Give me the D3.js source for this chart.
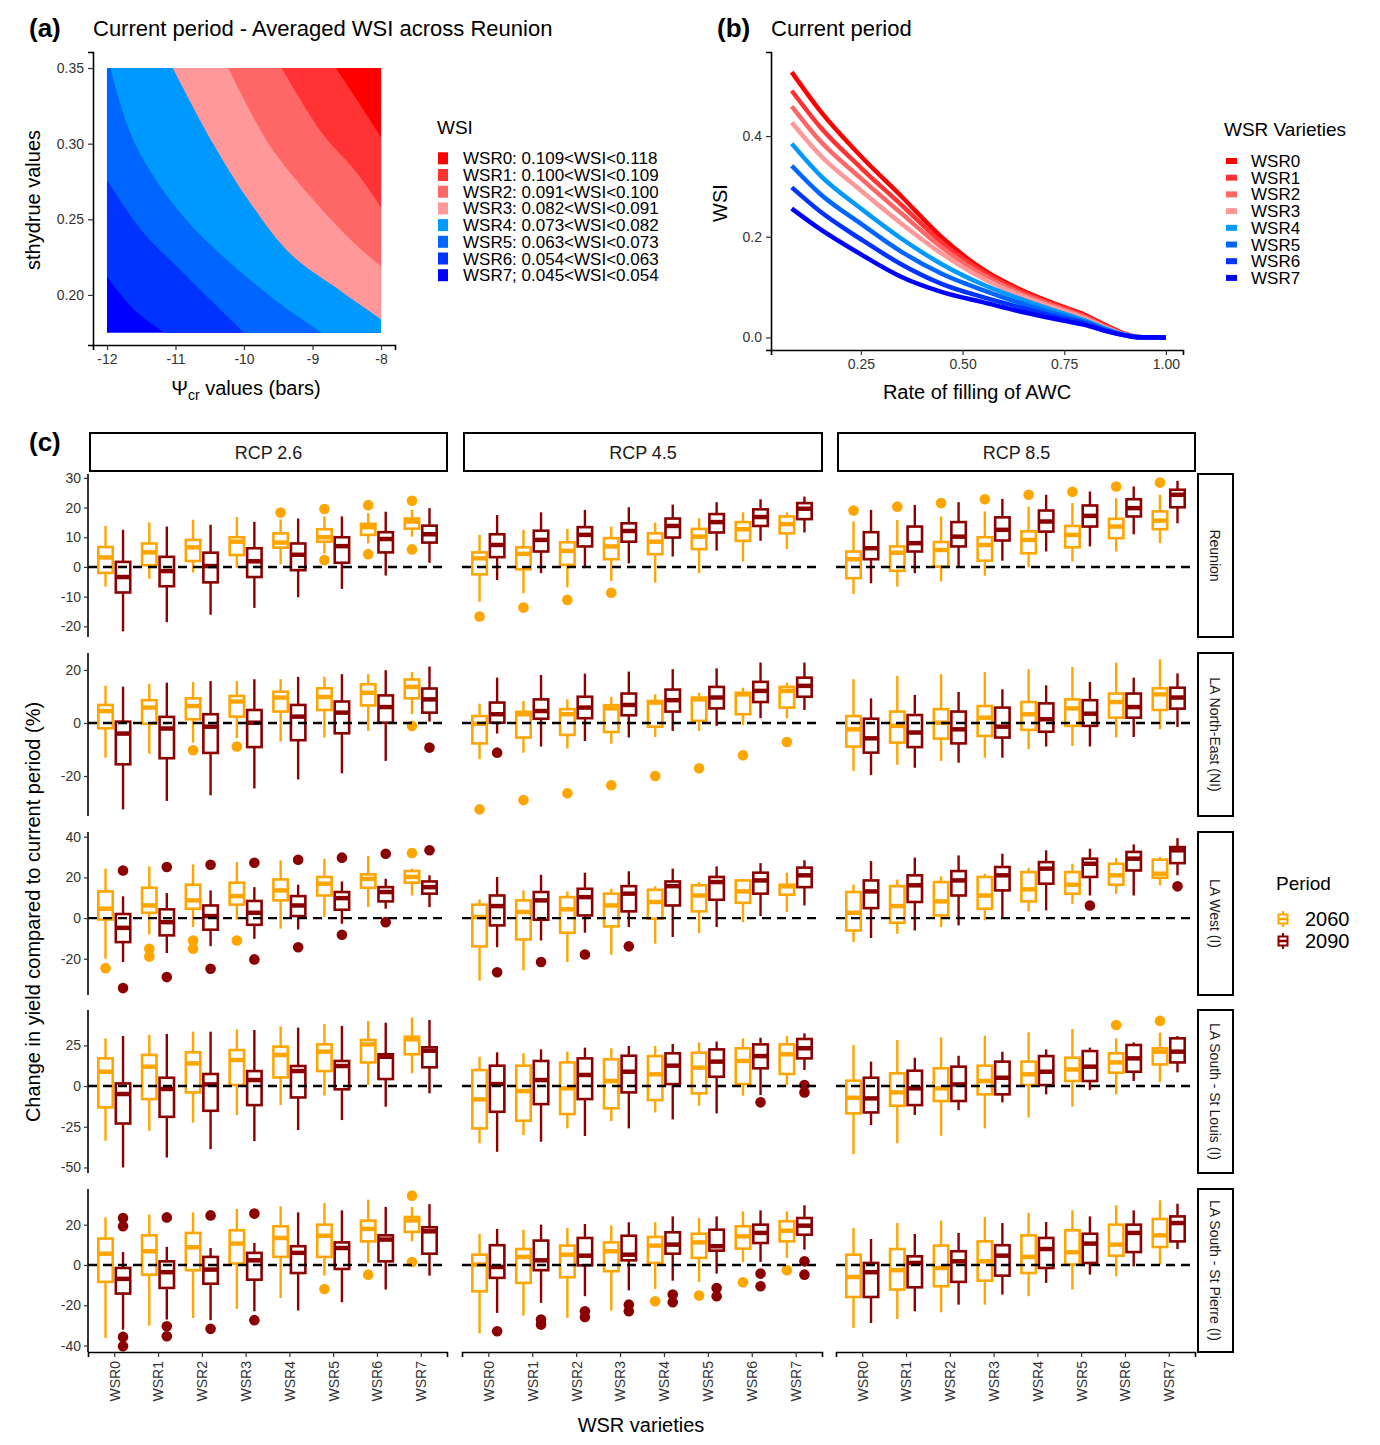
<!DOCTYPE html>
<meta charset="utf-8">
<script src="https://d3js.org/d3.v7.min.js"></script>
<style>
  body { margin: 0; background: #fff; }
  text { font-family: "Liberation Sans", Arial, sans-serif; }
</style>
<div id="chart"></div>
<script>
// ---------------- data ----------------
const varieties = ["WSR0", "WSR1", "WSR2", "WSR3", "WSR4", "WSR5", "WSR6", "WSR7"];
const wsrColors = ["#ff0000", "#ff3333", "#ff6666", "#ff9999", "#0099ff", "#0066ff", "#0033ff", "#0000ff"];
const wsiClasses = ["WSR0: 0.109<WSI<0.118", "WSR1: 0.100<WSI<0.109", "WSR2: 0.091<WSI<0.100",
  "WSR3: 0.082<WSI<0.091", "WSR4: 0.073<WSI<0.082", "WSR5: 0.063<WSI<0.073",
  "WSR6: 0.054<WSI<0.063", "WSR7; 0.045<WSI<0.054"];

// (a) contour boundaries between classes, [psi_cr, sthydrue]
const psiTicks = [-12, -11, -10, -9, -8];
const sthTicks = [0.20, 0.25, 0.30, 0.35];
const bound_7_6 = [[-12, 0.212], [-11.6, 0.19], [-11.16, 0.175]];
const bound_6_5 = [[-12, 0.276], [-11.5, 0.243], [-10.94, 0.217], [-10.45, 0.195], [-10.0, 0.175]];
const bound_5_4 = [[-11.95, 0.35], [-11.59, 0.30], [-10.85, 0.25], [-9.64, 0.20], [-8.86, 0.175]];
const bound_4_3 = [[-11.04, 0.35], [-10.45, 0.30], [-9.94, 0.263], [-9.32, 0.227], [-8.6, 0.203], [-8, 0.184]];
const bound_3_2 = [[-10.23, 0.35], [-9.64, 0.30], [-8.99, 0.263], [-8.34, 0.232], [-8, 0.219]];
const bound_2_1 = [[-9.45, 0.35], [-8.86, 0.307], [-8.34, 0.28], [-8, 0.258]];
const bound_1_0 = [[-8.66, 0.35], [-8.28, 0.324], [-8, 0.304]];

// (b) WSI vs rate of filling of AWC
const awcFill = [0.08, 0.15, 0.25, 0.35, 0.45, 0.55, 0.65, 0.75, 0.80, 0.85, 0.90, 0.93, 1.00];
const wsi_WSR0 = [0.527, 0.450, 0.360, 0.280, 0.198, 0.135, 0.092, 0.060, 0.045, 0.025, 0.007, 0.001, 0];
const wsi_WSR1 = [0.490, 0.418, 0.337, 0.263, 0.188, 0.130, 0.089, 0.058, 0.043, 0.023, 0.006, 0.001, 0];
const wsi_WSR2 = [0.459, 0.390, 0.316, 0.246, 0.178, 0.124, 0.085, 0.055, 0.040, 0.022, 0.006, 0.001, 0];
const wsi_WSR3 = [0.427, 0.362, 0.292, 0.226, 0.166, 0.117, 0.081, 0.052, 0.038, 0.020, 0.005, 0.001, 0];
const wsi_WSR4 = [0.385, 0.322, 0.256, 0.196, 0.145, 0.105, 0.074, 0.047, 0.034, 0.018, 0.005, 0.001, 0];
const wsi_WSR5 = [0.341, 0.285, 0.226, 0.170, 0.126, 0.094, 0.066, 0.042, 0.031, 0.016, 0.004, 0.001, 0];
const wsi_WSR6 = [0.298, 0.250, 0.195, 0.145, 0.106, 0.080, 0.058, 0.037, 0.028, 0.014, 0.004, 0.0005, 0];
const wsi_WSR7 = [0.256, 0.215, 0.165, 0.120, 0.090, 0.070, 0.050, 0.033, 0.025, 0.013, 0.004, 0.0005, 0];

// (c) boxplot stats per variety: [lower whisker, Q1, median, Q3, upper whisker]
const regions = ["Reunion", "LA North-East (NI)", "LA West (I)", "LA South - St Louis (I)", "LA South - St Pierre (I)"];
const scenarios = ["RCP 2.6", "RCP 4.5", "RCP 8.5"];
const periods = ["2060", "2090"];

const reu_26_2060 = [[-6.6,-2.0,3.2,6.7,13.8],[-4.0,0.6,4.9,7.9,15.0],[-1.9,2.0,6.6,9.1,15.9],[-0.3,4.0,8.5,10.0,16.8],[0.9,6.5,8.2,11.3,16.0],[4.5,8.5,10.0,12.7,17.0],[7.9,10.8,13.4,14.5,18.1],[10.2,12.9,15.3,16.3,19.3]];
const reu_26_2090 = [[-21.7,-8.6,-3.4,1.7,12.5],[-18.6,-6.5,-1.4,3.4,13.6],[-16.1,-5.2,0.3,4.8,14.2],[-13.8,-3.4,1.9,6.3,15.2],[-10.2,-1.1,4.1,7.9,16.3],[-7.4,1.4,7.0,10.0,17.0],[-2.9,4.9,9.4,11.7,18.6],[1.4,8.2,11.0,13.9,19.8]];
const reu_45_2060 = [[-11.7,-2.5,2.9,4.9,10.8],[-8.9,-0.8,4.4,6.6,12.5],[-6.9,0.7,5.4,8.3,12.8],[-4.7,2.6,6.9,9.7,13.6],[-5.3,4.3,8.5,11.3,14.9],[-2.1,6.0,10.2,12.8,16.4],[1.8,8.8,12.7,15.1,18.4],[6.0,11.3,14.4,17.0,18.4]];
const reu_45_2090 = [[-4.4,3.3,7.4,11.0,17.5],[-2.1,5.2,9.1,12.2,18.4],[-0.4,6.9,10.8,13.4,19.2],[1.2,8.5,12.1,14.7,20.1],[3.5,9.9,13.8,16.3,21.0],[5.5,11.6,15.1,17.8,21.8],[8.8,13.8,16.8,19.4,22.8],[11.6,16.1,19.6,21.5,23.7]];
const reu_85_2060 = [[-9.1,-3.8,2.6,5.2,15.3],[-6.6,-1.3,4.8,6.9,15.8],[-4.9,0.1,5.7,8.4,17.0],[-3.0,2.1,7.4,10.0,18.7],[-0.1,4.6,9.1,12.0,20.3],[1.8,6.6,10.8,13.8,21.5],[5.2,9.7,13.6,16.2,23.1],[8.0,12.7,15.6,18.7,24.3]];
const reu_85_2090 = [[-5.5,2.6,6.3,11.7,19.2],[-2.1,5.2,8.0,13.6,20.9],[-0.1,6.9,10.2,15.1,21.8],[2.1,8.9,12.5,16.7,22.9],[5.2,11.9,15.3,19.0,24.3],[6.9,13.6,17.2,20.7,25.4],[11.0,17.0,19.8,22.8,27.1],[14.7,20.1,24.3,26.0,29.0]];

const ne_26_2060 = [[-13.1,-2.0,4.5,6.8,14.0],[-11.6,-0.3,5.8,8.6,14.8],[-7.4,1.4,6.4,9.3,15.5],[-5.8,2.4,8.1,10.2,15.8],[-7.0,4.3,9.6,11.8,16.5],[-5.5,4.9,9.8,13.1,17.4],[-3.0,6.6,11.4,14.6,18.4],[3.3,9.3,13.6,16.4,19.2]];
const ne_26_2090 = [[-32.6,-15.6,-4.0,0.5,13.7],[-29.4,-13.3,-2.1,2.3,15.2],[-27.3,-11.3,-1.4,3.3,15.8],[-24.7,-9.1,0.1,4.9,16.5],[-21.3,-6.5,2.4,6.8,17.4],[-19.0,-3.9,3.9,8.1,18.4],[-14.3,0.1,6.0,10.4,19.9],[0.5,3.9,8.9,13.0,21.3]];
const ne_45_2060 = [[-13.7,-7.7,-0.3,2.6,7.3],[-11.2,-5.5,3.3,4.2,8.3],[-9.6,-4.5,3.3,5.2,8.9],[-7.8,-3.4,5.5,6.7,9.8],[-5.3,-1.4,7.7,8.3,10.8],[-3.0,0.8,8.9,9.6,11.4],[-0.8,3.3,10.8,11.4,13.3],[1.8,5.8,12.1,13.6,15.2]];
const ne_45_2090 = [[-4.0,0.1,3.3,7.7,17.1],[-8.9,1.6,4.5,8.9,18.1],[-6.8,1.8,5.8,9.9,18.6],[-5.5,2.9,6.8,11.1,19.4],[-3.0,4.3,8.6,12.6,20.3],[-1.1,5.5,9.6,13.6,20.6],[1.8,7.9,12.1,15.5,22.8],[4.9,9.9,14.0,17.1,22.8]];
const ne_85_2060 = [[-18.1,-8.9,-2.4,2.6,16.5],[-15.8,-7.4,-1.1,4.3,17.7],[-14.3,-5.9,0.1,5.2,18.4],[-13.1,-4.9,2.0,6.4,19.2],[-9.9,-2.6,3.3,7.9,20.3],[-8.7,-1.1,5.5,8.9,21.1],[-5.5,2.0,7.9,11.1,22.8],[-2.4,4.9,10.8,13.1,24.0]];
const ne_85_2090 = [[-19.6,-11.2,-5.8,1.6,9.3],[-16.9,-9.1,-3.6,3.0,10.6],[-15.0,-7.7,-2.4,4.3,11.7],[-13.1,-5.5,-1.4,5.8,12.7],[-8.9,-3.3,1.4,7.4,14.2],[-8.9,-1.1,3.5,8.6,15.5],[-5.3,2.0,6.0,11.1,17.1],[-1.5,5.4,9.6,13.3,18.7]];

const west_26_2060 = [[-20.0,-0.7,4.6,13.1,24.3],[-8.0,2.6,6.2,14.9,25.4],[-4.4,4.6,8.7,16.4,26.4],[-0.8,6.6,10.8,17.4,27.5],[-5.2,8.7,13.6,19.0,28.4],[0.5,11.1,16.9,20.2,29.2],[5.4,14.9,19.3,21.5,30.5],[11.1,17.4,20.2,23.1,24.3]];
const west_26_2090 = [[-21.6,-11.8,-4.8,2.0,10.7],[-17.2,-8.5,-2.0,4.3,12.3],[-13.8,-5.7,1.0,6.2,13.6],[-10.2,-3.3,2.6,8.4,15.2],[-5.6,1.0,6.2,10.8,16.4],[-2.8,4.1,9.8,12.8,18.0],[4.6,8.2,12.8,15.2,19.3],[5.4,12.0,15.2,18.0,21.0]];
const west_45_2060 = [[-30.7,-13.9,0.5,6.6,9.2],[-25.7,-10.5,3.0,8.7,13.6],[-21.6,-7.2,4.3,10.3,13.1],[-18.0,-4.1,6.2,12.0,14.4],[-12.6,-0.3,7.9,13.9,15.6],[-7.4,3.3,11.1,16.1,17.7],[-2.0,7.5,13.1,18.5,19.3],[3.0,11.5,15.6,16.4,22.3]];
const west_45_2090 = [[-14.3,-3.6,5.9,11.1,20.2],[-11.0,-0.8,8.7,12.8,21.3],[-7.2,1.3,10.3,14.4,22.3],[-4.4,3.3,12.0,15.7,23.0],[-9.3,6.2,15.7,18.0,24.3],[-4.4,9.0,17.7,20.2,25.4],[1.0,12.0,18.5,22.3,27.0],[6.2,15.2,21.0,24.8,28.4]];
const west_85_2060 = [[-11.8,-6.1,2.6,12.8,16.4],[-7.7,-2.3,5.9,15.7,18.9],[-4.4,1.3,8.2,17.7,20.5],[-1.1,4.6,11.1,20.2,21.8],[3.3,8.2,14.1,22.6,24.6],[7.0,12.0,16.4,22.6,26.7],[12.0,16.4,21.0,26.7,29.5],[16.1,19.8,21.8,28.7,30.0]];
const west_85_2090 = [[-9.8,4.9,13.1,18.5,28.0],[-6.1,7.9,16.1,21.0,29.7],[-3.6,11.1,18.5,23.1,30.8],[-0.3,13.6,21.0,25.1,31.6],[3.8,16.9,24.3,27.5,33.3],[11.1,20.2,26.7,29.2,34.1],[11.1,23.4,29.2,32.5,36.2],[21.0,27.0,33.3,34.9,39.3]];

const stl_26_2060 = [[-33.6,-13.1,8.8,17.0,29.3],[-27.5,-8.0,11.9,19.1,31.4],[-22.5,-3.9,13.9,20.7,33.4],[-17.8,0.6,16.0,22.1,34.8],[-11.7,5.3,19.1,24.2,36.5],[-5.9,9.2,21.1,25.6,38.1],[0.6,14.5,25.6,28.3,40.0],[7.8,19.5,28.7,30.3,42.0]];
const stl_26_2090 = [[-50.0,-23.0,-4.9,1.6,30.7],[-43.9,-18.9,-1.8,5.1,32.0],[-38.7,-15.2,1.0,7.4,33.4],[-33.8,-11.7,3.7,9.2,34.4],[-27.0,-7.0,9.2,12.3,35.9],[-20.9,-2.0,12.3,15.4,36.9],[-12.7,4.3,18.0,19.5,38.9],[-4.5,11.5,21.7,23.8,40.6]];
const stl_45_2060 = [[-35.2,-26.0,-8.2,9.8,18.0],[-30.1,-21.3,-3.1,12.5,20.1],[-26.0,-17.2,-1.4,14.5,21.1],[-21.5,-13.7,3.1,16.4,23.2],[-16.2,-8.6,7.2,18.4,24.6],[-12.1,-4.5,11.3,20.5,26.8],[-5.9,1.2,15.4,23.2,29.3],[0.6,7.4,19.5,25.6,30.7]];
const stl_45_2090 = [[-40.4,-15.8,1.2,12.5,20.7],[-34.2,-11.1,3.7,15.4,22.5],[-30.7,-8.0,6.8,17.0,23.6],[-26.0,-3.9,8.8,18.6,24.6],[-20.5,1.2,12.5,20.1,25.8],[-16.8,5.7,15.0,22.5,27.3],[-5.5,10.9,18.4,25.6,29.7],[9.8,17.0,23.2,28.9,32.4]];
const stl_85_2060 = [[-41.8,-16.8,-7.2,3.3,25.2],[-35.2,-12.1,-3.9,7.8,28.3],[-30.5,-9.2,-1.4,10.9,29.9],[-26.0,-5.1,3.1,12.5,30.9],[-19.3,0.6,7.2,15.0,33.0],[-12.7,3.1,10.2,17.4,35.0],[-5.1,8.2,14.5,20.1,29.3],[2.3,13.3,21.1,23.2,32.8]];
const stl_85_2090 = [[-24.0,-16.2,-7.6,5.1,15.0],[-17.8,-11.7,-1.4,9.4,17.4],[-14.8,-9.2,1.0,11.9,18.6],[-10.0,-5.1,5.1,15.0,21.1],[-5.1,0.6,8.8,18.4,22.5],[-2.5,3.1,11.9,21.5,23.6],[3.1,8.8,17.0,25.2,26.8],[8.4,14.5,21.1,29.3,30.7]];

const stp_26_2060 = [[-36.2,-8.4,5.6,13.1,23.6],[-30.1,-4.8,6.8,14.7,25.0],[-26.3,-2.6,8.8,15.9,26.1],[-21.8,0.7,10.6,17.2,27.8],[-16.4,4.0,13.4,19.2,29.1],[-5.3,4.0,14.5,20.0,30.7],[1.0,11.7,17.9,22.0,32.4],[11.7,16.4,22.1,23.8,28.8]];
const stp_26_2090 = [[-32.1,-14.2,-6.9,-1.5,6.4],[-27.1,-11.4,-3.6,1.8,9.0],[-27.4,-9.3,-2.3,4.0,8.4],[-23.0,-7.3,2.3,6.0,10.9],[-22.6,-4.0,6.0,9.3,26.1],[-18.5,-2.0,8.4,11.2,27.1],[-12.2,1.8,12.6,14.7,28.8],[-5.3,5.6,16.7,18.7,30.2]];
const stp_45_2060 = [[-34.0,-13.1,0.2,5.1,15.4],[-25.1,-8.9,4.0,7.9,17.5],[-26.3,-6.1,5.1,9.6,18.3],[-22.6,-3.1,6.8,11.2,19.5],[-11.9,1.0,9.6,13.9,21.2],[-8.4,3.5,11.2,15.5,23.3],[1.5,8.1,14.2,19.2,26.6],[3.5,11.7,17.0,21.7,26.6]];
const stp_45_2090 = [[-23.8,-6.4,-1.0,9.8,17.9],[-18.8,-2.6,2.3,12.1,20.0],[-15.5,-0.2,4.6,13.4,20.3],[-12.6,2.3,5.1,14.5,21.2],[-7.8,5.6,10.1,16.2,24.1],[-4.3,7.1,9.3,17.5,24.1],[1.5,10.9,15.9,20.0,27.1],[7.6,15.0,19.5,23.3,29.6]];
const stp_85_2060 = [[-31.2,-15.9,-6.0,5.1,18.3],[-26.8,-12.2,-2.6,7.9,20.8],[-23.5,-10.6,-1.5,9.6,22.0],[-19.7,-7.8,1.8,11.7,23.8],[-15.5,-4.0,4.0,14.7,25.8],[-12.2,0.2,6.3,17.2,27.1],[-5.6,4.6,10.1,20.0,29.6],[0.2,8.9,14.7,22.8,32.1]];
const stp_85_2090 = [[-28.8,-15.9,-3.6,1.0,12.9],[-23.0,-11.1,1.0,4.3,15.4],[-19.7,-8.4,1.8,6.8,15.9],[-14.7,-5.3,4.6,9.8,20.8],[-8.9,-1.5,7.9,13.4,21.3],[-4.8,1.0,10.6,15.5,24.1],[-0.7,6.4,15.9,20.0,27.1],[7.9,11.7,20.8,24.1,30.4]];

// outliers: [scenario, variety, period, value]
const out_reu = [["RCP 2.6","WSR4","2060",18.3],["RCP 2.6","WSR5","2060",19.5],["RCP 2.6","WSR5","2060",2.3],["RCP 2.6","WSR6","2060",20.8],["RCP 2.6","WSR6","2060",4.3],["RCP 2.6","WSR7","2060",22.3],["RCP 2.6","WSR7","2060",5.9],
  ["RCP 4.5","WSR0","2060",-16.7],["RCP 4.5","WSR1","2060",-13.7],["RCP 4.5","WSR2","2060",-11.1],["RCP 4.5","WSR3","2060",-8.7],
  ["RCP 8.5","WSR0","2060",19.0],["RCP 8.5","WSR1","2060",20.3],["RCP 8.5","WSR2","2060",21.5],["RCP 8.5","WSR3","2060",22.8],["RCP 8.5","WSR4","2060",24.3],["RCP 8.5","WSR5","2060",25.3],["RCP 8.5","WSR6","2060",27.1],["RCP 8.5","WSR7","2060",28.4]];
const out_ne = [["RCP 2.6","WSR2","2060",-10.3],["RCP 2.6","WSR3","2060",-8.9],["RCP 2.6","WSR7","2060",-1.1],["RCP 2.6","WSR7","2090",-9.3],
  ["RCP 4.5","WSR0","2060",-32.6],["RCP 4.5","WSR1","2060",-29.1],["RCP 4.5","WSR2","2060",-26.5],["RCP 4.5","WSR3","2060",-23.5],["RCP 4.5","WSR4","2060",-20.0],["RCP 4.5","WSR5","2060",-17.1],["RCP 4.5","WSR6","2060",-12.2],["RCP 4.5","WSR7","2060",-7.2],["RCP 4.5","WSR0","2090",-11.2]];
const out_west = [["RCP 2.6","WSR0","2060",-24.6],["RCP 2.6","WSR1","2060",-15.1],["RCP 2.6","WSR1","2060",-18.9],["RCP 2.6","WSR2","2060",-11.0],["RCP 2.6","WSR2","2060",-15.1],["RCP 2.6","WSR3","2060",-11.0],["RCP 2.6","WSR7","2060",32.0],
  ["RCP 2.6","WSR0","2090",23.4],["RCP 2.6","WSR0","2090",-34.4],["RCP 2.6","WSR1","2090",25.1],["RCP 2.6","WSR1","2090",-29.0],["RCP 2.6","WSR2","2090",26.2],["RCP 2.6","WSR2","2090",-24.9],["RCP 2.6","WSR3","2090",27.2],["RCP 2.6","WSR3","2090",-20.3],["RCP 2.6","WSR4","2090",28.7],["RCP 2.6","WSR4","2090",-14.3],["RCP 2.6","WSR5","2090",29.7],["RCP 2.6","WSR5","2090",-8.2],["RCP 2.6","WSR6","2090",31.6],["RCP 2.6","WSR6","2090",-2.0],["RCP 2.6","WSR7","2090",33.3],
  ["RCP 4.5","WSR0","2090",-26.6],["RCP 4.5","WSR1","2090",-21.6],["RCP 4.5","WSR2","2090",-17.9],["RCP 4.5","WSR3","2090",-13.9],
  ["RCP 8.5","WSR5","2090",6.2],["RCP 8.5","WSR7","2090",15.6]];
const out_stl = [["RCP 4.5","WSR6","2090",-10.0],["RCP 4.5","WSR7","2090",0.6],["RCP 4.5","WSR7","2090",-3.9],
  ["RCP 8.5","WSR6","2060",37.5],["RCP 8.5","WSR7","2060",40.0]];
const out_stp = [["RCP 2.6","WSR5","2060",-11.9],["RCP 2.6","WSR6","2060",-4.8],["RCP 2.6","WSR7","2060",34.4],["RCP 2.6","WSR7","2060",1.5],
  ["RCP 2.6","WSR0","2090",23.3],["RCP 2.6","WSR0","2090",19.2],["RCP 2.6","WSR0","2090",-35.7],["RCP 2.6","WSR0","2090",-40.3],["RCP 2.6","WSR1","2090",23.6],["RCP 2.6","WSR1","2090",-30.4],["RCP 2.6","WSR1","2090",-35.4],["RCP 2.6","WSR2","2090",24.6],["RCP 2.6","WSR2","2090",-31.7],["RCP 2.6","WSR3","2090",25.5],["RCP 2.6","WSR3","2090",-27.4],
  ["RCP 4.5","WSR4","2060",-18.0],["RCP 4.5","WSR5","2060",-15.2],["RCP 4.5","WSR6","2060",-8.6],["RCP 4.5","WSR7","2060",-2.6],
  ["RCP 4.5","WSR0","2090",-32.9],["RCP 4.5","WSR1","2090",-27.1],["RCP 4.5","WSR1","2090",-29.6],["RCP 4.5","WSR2","2090",-23.0],["RCP 4.5","WSR2","2090",-25.8],["RCP 4.5","WSR3","2090",-19.7],["RCP 4.5","WSR3","2090",-23.0],["RCP 4.5","WSR4","2090",-14.7],["RCP 4.5","WSR4","2090",-18.5],["RCP 4.5","WSR5","2090",-11.4],["RCP 4.5","WSR5","2090",-15.5],["RCP 4.5","WSR6","2090",-4.3],["RCP 4.5","WSR6","2090",-10.6],["RCP 4.5","WSR7","2090",1.8],["RCP 4.5","WSR7","2090",-4.8]];

// y ticks of each region row
const rowTicks = [[-20, -10, 0, 10, 20, 30], [-20, 0, 20], [-20, 0, 20, 40], [-50, -25, 0, 25], [-40, -20, 0, 20]];

// ---------------- layout ----------------
const periodColors = ["#ffa500", "#8b0000"];
const boxTable = [
  [[reu_26_2060, reu_26_2090], [reu_45_2060, reu_45_2090], [reu_85_2060, reu_85_2090]],
  [[ne_26_2060, ne_26_2090], [ne_45_2060, ne_45_2090], [ne_85_2060, ne_85_2090]],
  [[west_26_2060, west_26_2090], [west_45_2060, west_45_2090], [west_85_2060, west_85_2090]],
  [[stl_26_2060, stl_26_2090], [stl_45_2060, stl_45_2090], [stl_85_2060, stl_85_2090]],
  [[stp_26_2060, stp_26_2090], [stp_45_2060, stp_45_2090], [stp_85_2060, stp_85_2090]]
];
const outTable = [out_reu, out_ne, out_west, out_stl, out_stp];
const rowDomains = [[-23.6, 31.3], [-35.1, 26.4], [-37.8, 42.3], [-53.4, 46.7], [-43.2, 37.7]];
const colX = [[88, 447], [462, 822], [836, 1195]];
const rowY = [[474, 637], [653, 816], [832, 995], [1010, 1173], [1189, 1352]];

const svg = d3.select("#chart").append("svg")
  .attr("width", 1380).attr("height", 1445);

const tickColor = "#333";
const plainNum = d => String(d);   // hyphen-minus like the original
function styleAxis(g, fs) {
  g.selectAll(".domain").attr("stroke", "#000").attr("stroke-width", 1.6);
  g.selectAll(".tick line").attr("stroke", "#333").attr("stroke-width", 1.2);
  g.selectAll(".tick text").attr("fill", tickColor).style("font-size", fs + "px")
    .style("font-family", "Liberation Sans, Arial, sans-serif");
}

// ---------------- panel (a) ----------------
const ax = d3.scaleLinear().domain([-12.204, -7.796]).range([93, 395]);
const ay = d3.scaleLinear().domain([0.1669, 0.3606]).range([345, 52]);

svg.append("text").attr("x", 29).attr("y", 37).style("font-size", "26px").style("font-weight", "bold").text("(a)");
svg.append("text").attr("x", 93).attr("y", 36).style("font-size", "22px").text("Current period - Averaged WSI across Reunion");

const ga = svg.append("g");
const xmin = -12, xmax = -8, ymin = 0.175, ymax = 0.35;
ga.append("rect").attr("x", ax(xmin)).attr("y", ay(ymax))
  .attr("width", ax(xmax) - ax(xmin)).attr("height", ay(ymin) - ay(ymax))
  .attr("fill", wsrColors[7]);
const boundaries = [bound_7_6, bound_6_5, bound_5_4, bound_4_3, bound_3_2, bound_2_1, bound_1_0];
const curveLine = d3.line().x(d => ax(d[0])).y(d => ay(d[1])).curve(d3.curveCatmullRom);
boundaries.forEach((b, i) => {
  const first = b[0], last = b[b.length - 1];
  const corners = [[xmax, last[1]], [xmax, ymax], [first[0], ymax]];
  const path = curveLine(b) + corners.map(c => "L" + ax(c[0]) + "," + ay(c[1])).join("") + "Z";
  ga.append("path").attr("d", path).attr("fill", wsrColors[6 - i]);
});

const axA = svg.append("g").attr("transform", "translate(0,345)")
  .call(d3.axisBottom(ax).tickValues(psiTicks).tickFormat(plainNum).tickSizeOuter(0).tickSize(5).tickPadding(4));
styleAxis(axA, 14);
const ayA = svg.append("g").attr("transform", "translate(93,0)")
  .call(d3.axisLeft(ay).tickValues(sthTicks).tickFormat(d3.format(".2f")).tickSizeOuter(0).tickSize(5).tickPadding(4));
styleAxis(ayA, 14);

svg.append("text").attr("transform", "translate(40,200) rotate(-90)").attr("text-anchor", "middle")
  .style("font-size", "20px").text("sthydrue values");
const xt = svg.append("text").attr("x", 246).attr("y", 395).attr("text-anchor", "middle").style("font-size", "20px");
xt.append("tspan").text("Ψ");
xt.append("tspan").attr("dy", 5).style("font-size", "14px").text("cr");
xt.append("tspan").attr("dy", -5).text(" values (bars)");

// legend (a)
svg.append("text").attr("x", 437).attr("y", 134).style("font-size", "19px").text("WSI");
const legA = svg.append("g").selectAll("g").data(wsiClasses).join("g")
  .attr("transform", (d, i) => `translate(438,${158.3 + i * 16.7})`);
legA.append("rect").attr("x", 0).attr("y", -6).attr("width", 10).attr("height", 12)
  .attr("fill", (d, i) => wsrColors[i]);
legA.append("text").attr("x", 25).attr("y", 6).style("font-size", "17px").text(d => d);

// ---------------- panel (b) ----------------
const bx = d3.scaleLinear().domain([0.029, 1.042]).range([771, 1183]);
const by = d3.scaleLinear().domain([-0.025, 0.567]).range([350, 52]);
svg.append("text").attr("x", 717).attr("y", 37).style("font-size", "26px").style("font-weight", "bold").text("(b)");
svg.append("text").attr("x", 771).attr("y", 36).style("font-size", "22px").text("Current period");

const wsiSeries = [wsi_WSR0, wsi_WSR1, wsi_WSR2, wsi_WSR3, wsi_WSR4, wsi_WSR5, wsi_WSR6, wsi_WSR7];
const wsiLine = d3.line().x((d, i) => bx(awcFill[i])).y(d => by(d)).curve(d3.curveMonotoneX);
svg.append("g").selectAll("path").data(wsiSeries).join("path")
  .attr("d", d => wsiLine(d)).attr("fill", "none")
  .attr("stroke", (d, i) => wsrColors[i]).attr("stroke-width", 4.5).attr("stroke-linecap", "butt");

const axB = svg.append("g").attr("transform", "translate(0,350)")
  .call(d3.axisBottom(bx).tickValues([0.25, 0.5, 0.75, 1.0]).tickFormat(d3.format(".2f")).tickSizeOuter(0).tickSize(5).tickPadding(4));
styleAxis(axB, 14);
const ayB = svg.append("g").attr("transform", "translate(771,0)")
  .call(d3.axisLeft(by).tickValues([0, 0.2, 0.4]).tickFormat(d3.format(".1f")).tickSizeOuter(0).tickSize(5).tickPadding(4));
styleAxis(ayB, 14);
svg.append("text").attr("transform", "translate(727,203) rotate(-90)").attr("text-anchor", "middle")
  .style("font-size", "20px").text("WSI");
svg.append("text").attr("x", 977).attr("y", 399).attr("text-anchor", "middle")
  .style("font-size", "20px").text("Rate of filling of AWC");

svg.append("text").attr("x", 1224).attr("y", 136).style("font-size", "19px").text("WSR Varieties");
const legB = svg.append("g").selectAll("g").data(varieties).join("g")
  .attr("transform", (d, i) => `translate(1226,${161 + i * 16.7})`);
legB.append("rect").attr("x", 0).attr("y", -3).attr("width", 11).attr("height", 6)
  .attr("fill", (d, i) => wsrColors[i]);
legB.append("text").attr("x", 25).attr("y", 6).style("font-size", "17px").text(d => d);

// ---------------- panel (c) ----------------
svg.append("text").attr("x", 29).attr("y", 451).style("font-size", "26px").style("font-weight", "bold").text("(c)");

scenarios.forEach((sc, c) => {
  const [x0, x1] = colX[c];
  svg.append("rect").attr("x", x0 + 2).attr("y", 433).attr("width", x1 - x0 - 2).attr("height", 38)
    .attr("fill", "#fff").attr("stroke", "#000").attr("stroke-width", 2);
  svg.append("text").attr("x", (x0 + x1) / 2 + 1).attr("y", 459).attr("text-anchor", "middle")
    .style("font-size", "18px").attr("fill", "#1a1a1a").text(sc);
});

regions.forEach((reg, r) => {
  const [y0, y1] = rowY[r];
  const y = d3.scaleLinear().domain(rowDomains[r]).range([y1, y0]);

  // right strip
  svg.append("rect").attr("x", 1198).attr("y", y0).attr("width", 35).attr("height", y1 - y0)
    .attr("fill", "#fff").attr("stroke", "#000").attr("stroke-width", 2);
  svg.append("text").attr("transform", `translate(1210,${(y0 + y1) / 2}) rotate(90)`)
    .attr("text-anchor", "middle").style("font-size", "14px").attr("fill", "#1a1a1a").text(reg);

  scenarios.forEach((sc, c) => {
    const [x0, x1] = colX[c];
    const x = d3.scalePoint().domain(varieties).range([x0, x1]).padding(0.6);
    const step = x.step();
    const bw = 0.33 * step;
    const g = svg.append("g");

    periods.forEach((p, k) => {
      const off = (k === 0 ? -1 : 1) * 0.2 * step;
      const col = periodColors[k];
      const stats = boxTable[r][c][k];
      const b = g.append("g").selectAll("g").data(stats).join("g");
      const cx = (d, i) => x(varieties[i]) + off;
      b.append("line").attr("x1", cx).attr("x2", cx)
        .attr("y1", d => y(d[4])).attr("y2", d => y(d[3]))
        .attr("stroke", col).attr("stroke-width", 2.4);
      b.append("line").attr("x1", cx).attr("x2", cx)
        .attr("y1", d => y(d[1])).attr("y2", d => y(d[0]))
        .attr("stroke", col).attr("stroke-width", 2.4);
      b.append("rect").attr("x", (d, i) => cx(d, i) - bw / 2).attr("y", d => y(d[3]))
        .attr("width", bw).attr("height", d => Math.max(0, y(d[1]) - y(d[3])))
        .attr("fill", "#fff").attr("stroke", col).attr("stroke-width", 2.6);
      b.append("line").attr("x1", (d, i) => cx(d, i) - bw / 2).attr("x2", (d, i) => cx(d, i) + bw / 2)
        .attr("y1", d => y(d[2])).attr("y2", d => y(d[2]))
        .attr("stroke", col).attr("stroke-width", 4.5);
    });

    const outs = outTable[r].filter(o => o[0] === sc);
    g.append("g").selectAll("circle").data(outs).join("circle")
      .attr("cx", o => x(o[1]) + (o[2] === "2060" ? -1 : 1) * 0.2 * step)
      .attr("cy", o => y(o[3])).attr("r", 5.3)
      .attr("fill", o => periodColors[periods.indexOf(o[2])]);

    // zero reference
    g.append("line").attr("x1", x0).attr("x2", x1).attr("y1", y(0)).attr("y2", y(0))
      .attr("stroke", "#000").attr("stroke-width", 2.4).attr("stroke-dasharray", "9,6");

    if (c === 0) {
      const ya = svg.append("g").attr("transform", `translate(${x0},0)`)
        .call(d3.axisLeft(y).tickValues(rowTicks[r]).tickFormat(plainNum).tickSizeOuter(0).tickSize(4).tickPadding(3));
      ya.select(".domain").attr("d", `M0,${y0}V${y1}`);
      styleAxis(ya, 14);
    }
    if (r === regions.length - 1) {
      const xa = svg.append("g").attr("transform", `translate(0,${y1})`)
        .call(d3.axisBottom(x).tickSizeOuter(0).tickSize(5).tickPadding(4));
      styleAxis(xa, 14);
      xa.selectAll(".tick text").attr("transform", "rotate(-90)")
        .attr("text-anchor", "end").attr("x", -9).attr("y", 0).attr("dy", "0.35em");
    }
  });
});

svg.append("text").attr("transform", "translate(40,912) rotate(-90)").attr("text-anchor", "middle")
  .style("font-size", "20px").text("Change in yield compared to current period (%)");
svg.append("text").attr("x", 641).attr("y", 1432).attr("text-anchor", "middle")
  .style("font-size", "20px").text("WSR varieties");

// period legend
svg.append("text").attr("x", 1276).attr("y", 890).style("font-size", "19px").text("Period");
const legC = svg.append("g").selectAll("g").data(periods).join("g")
  .attr("transform", (d, i) => `translate(1283,${919 + i * 22})`);
legC.append("line").attr("y1", -8).attr("y2", 8).attr("stroke", (d, i) => periodColors[i]).attr("stroke-width", 2);
legC.append("rect").attr("x", -4.5).attr("y", -4.5).attr("width", 9).attr("height", 9)
  .attr("fill", "#fff").attr("stroke", (d, i) => periodColors[i]).attr("stroke-width", 2);
legC.append("line").attr("x1", -4.5).attr("x2", 4.5).attr("stroke", (d, i) => periodColors[i]).attr("stroke-width", 2.5);
legC.append("text").attr("x", 22).attr("y", 7).style("font-size", "20px").text(d => d);
</script>
